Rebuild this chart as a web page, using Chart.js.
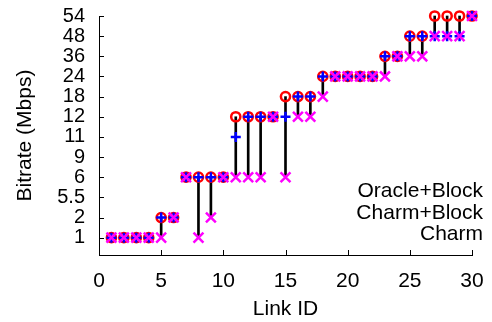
<!DOCTYPE html>
<html>
<head>
<meta charset="utf-8">
<script src="https://cdn.jsdelivr.net/npm/chart.js@4.4.1/dist/chart.umd.min.js"></script>
<style>
  html, body { margin: 0; padding: 0; background: #fff; }
  #wrap { width: 492px; height: 322px; }
</style>
</head>
<body>
<div id="wrap"><canvas id="chart" width="492" height="322"></canvas></div>
<script>
// bitrate levels, plotted evenly spaced
const levels = [1, 2, 5.5, 6, 9, 11, 12, 18, 24, 36, 48, 54];
const linkIds = [1, 2, 3, 4, 5, 6, 7, 8, 9, 10, 11, 12, 13, 14, 15, 16, 17, 18, 19, 20, 21, 22, 23, 24, 25, 26, 27, 28, 29, 30];
const oracleBlock = [1, 1, 1, 1, 2, 2, 6, 6, 6, 6, 12, 12, 12, 12, 18, 18, 18, 24, 24, 24, 24, 24, 36, 36, 48, 48, 54, 54, 54, 54];
const charmBlock = [1, 1, 1, 1, 2, 2, 6, 6, 6, 6, 11, 12, 12, 12, 12, 18, 18, 24, 24, 24, 24, 24, 36, 36, 48, 48, 48, 48, 48, 54];
const charm = [1, 1, 1, 1, 1, 2, 6, 1, 2, 6, 6, 6, 6, 12, 6, 12, 12, 18, 24, 24, 24, 24, 24, 36, 36, 36, 48, 48, 48, 54];
const xTicks = [0, 5, 10, 15, 20, 25, 30];
const keyLabels = ['Oracle+Block', 'Charm+Block', 'Charm'];

const lvl = v => levels.indexOf(v) + 1;
const pts = arr => arr.map((v, i) => ({ x: linkIds[i], y: lvl(v) }));

// inward tick marks, gnuplot style
const innerTicks = {
    id: 'innerTicks',
    afterDraw(chart) {
        const { ctx, chartArea, scales } = chart;
        ctx.save();
        ctx.strokeStyle = '#000';
        ctx.lineWidth = 1;
        ctx.beginPath();
        scales.y.ticks.forEach(t => {
            const y = Math.round(scales.y.getPixelForValue(t.value)) + 0.5;
            ctx.moveTo(chartArea.left, y);
            ctx.lineTo(chartArea.left + 5, y);
        });
        scales.x.ticks.forEach(t => {
            const x = Math.round(scales.x.getPixelForValue(t.value)) + 0.5;
            ctx.moveTo(x, chartArea.bottom);
            ctx.lineTo(x, chartArea.bottom - 5);
        });
        ctx.stroke();
        ctx.restore();
    }
};

// key text only, right aligned
const keyText = {
    id: 'keyText',
    afterDraw(chart) {
        const { ctx } = chart;
        ctx.save();
        ctx.font = '21px "Liberation Sans", Arial, sans-serif';
        ctx.fillStyle = '#000';
        ctx.textAlign = 'right';
        ctx.textBaseline = 'alphabetic';
        keyLabels.forEach((l, i) => ctx.fillText(l, 483, 197 + i * 21.5));
        ctx.restore();
    }
};

const font = { family: '"Liberation Sans", Arial, sans-serif', size: 21 };

new Chart(document.getElementById('chart'), {
    data: {
        datasets: [
            {
                type: 'scatter', label: keyLabels[2], data: pts(charm), order: 0, clip: false,
                pointStyle: 'crossRot', pointRadius: 7, pointBorderWidth: 2.5,
                borderColor: '#ff00ff', backgroundColor: '#ff00ff'
            },
            {
                type: 'scatter', label: keyLabels[1], data: pts(charmBlock), order: 1, clip: false,
                pointStyle: 'cross', pointRadius: 5, pointBorderWidth: 2.5,
                borderColor: '#0000ff', backgroundColor: '#0000ff'
            },
            {
                type: 'scatter', label: keyLabels[0], data: pts(oracleBlock), order: 2, clip: false,
                pointStyle: 'circle', pointRadius: 4.6, pointBorderWidth: 2.5,
                borderColor: '#ff0000', backgroundColor: 'rgba(0,0,0,0)'
            },
            {
                type: 'bar', label: 'gap', clip: false,
                data: linkIds.map((id, i) => ({ x: id, y: [lvl(charm[i]), lvl(oracleBlock[i])] })),
                order: 3, barThickness: 2, backgroundColor: '#000', borderWidth: 0
            }
        ]
    },
    options: {
        responsive: false,
        animation: false,
        events: [],
        layout: { padding: { top: 16, right: 20, left: 0, bottom: 0 } },
        plugins: { legend: { display: false }, tooltip: { enabled: false } },
        scales: {
            x: {
                type: 'linear', min: 0, max: 30, offset: false,
                afterBuildTicks: s => { s.ticks = xTicks.map(v => ({ value: v })); },
                afterFit: s => { s.height = 67; s.paddingLeft = 0; s.paddingRight = 0; },
                grid: { display: false, drawTicks: false },
                border: { display: true, color: '#000', width: 1 },
                ticks: { color: '#000', font, padding: 14, maxRotation: 0, autoSkip: false },
                title: { display: true, text: 'Link ID', color: '#000', font, padding: { top: 0, bottom: 0 } }
            },
            y: {
                type: 'linear', min: 0.14, max: 12,
                afterBuildTicks: s => { s.ticks = levels.map((v, i) => ({ value: i + 1 })); },
                afterFit: s => { s.width = 99; s.paddingTop = 0; s.paddingBottom = 0; },
                grid: { display: false, drawTicks: false },
                border: { display: true, color: '#000', width: 1 },
                ticks: {
                    color: '#000', font: { family: font.family, size: 20 }, padding: 14, autoSkip: false,
                    callback: v => levels[Math.round(v) - 1]
                },
                title: { display: true, text: 'Bitrate (Mbps)', color: '#000', font, padding: { top: 13, bottom: 0 } }
            }
        }
    },
    plugins: [innerTicks, keyText]
});
</script>
</body>
</html>
